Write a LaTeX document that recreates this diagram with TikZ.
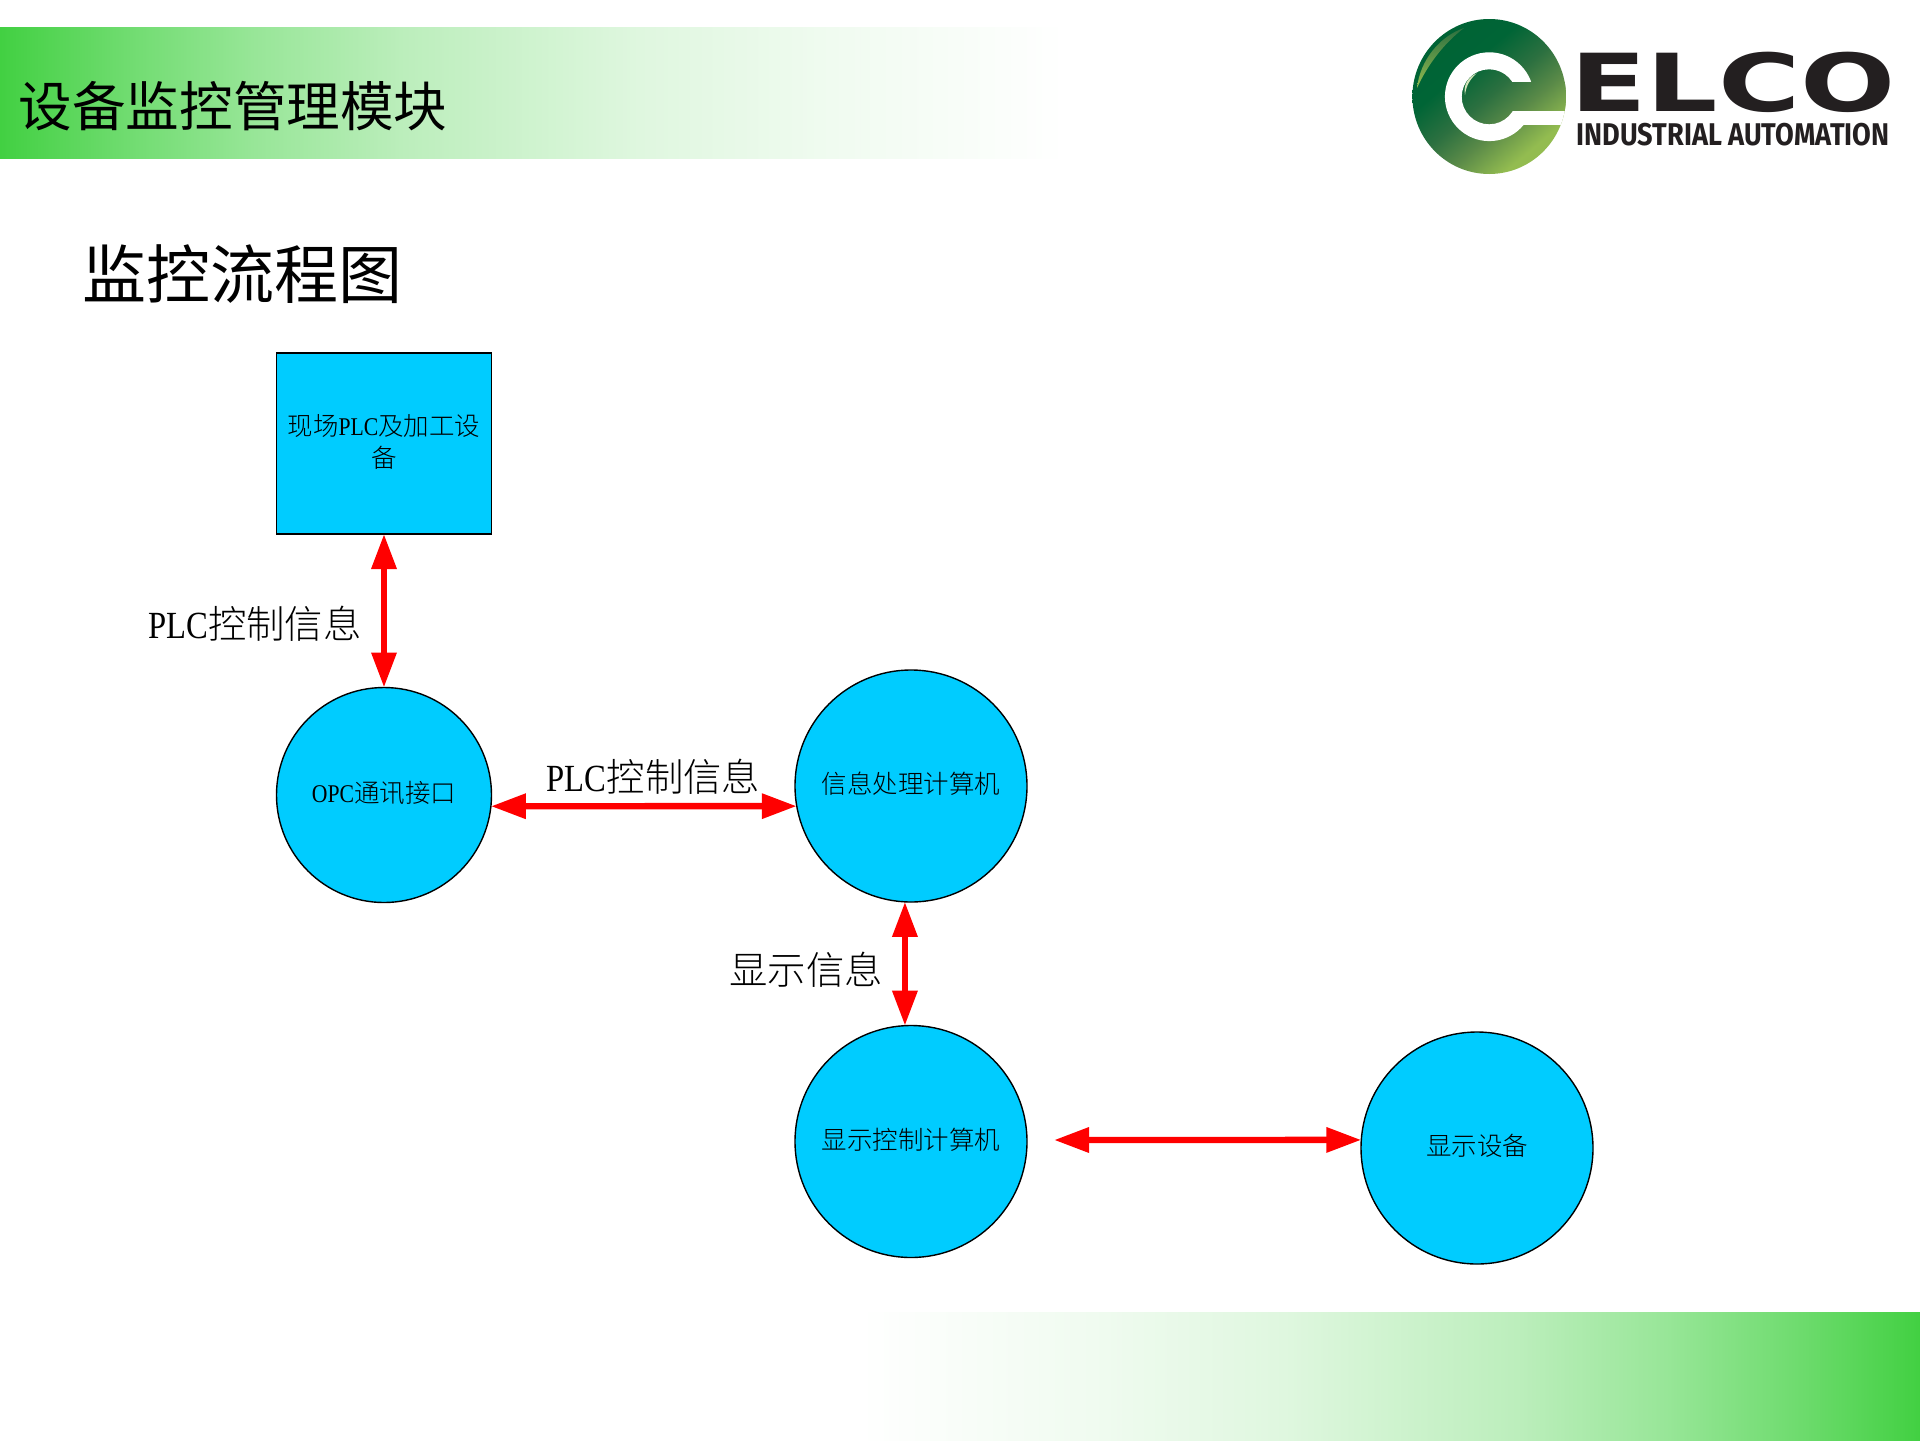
\documentclass[tikz,border=0pt]{standalone}
\usepackage{fontspec}
\usetikzlibrary{arrows.meta}
\setmainfont{Liberation Serif}
\newfontfamily\cjkbody{Noto Sans CJK SC Light}
\newfontfamily\cjkhead{Noto Sans CJK SC}
\newfontfamily\latinbody[FakeStretch=0.85]{Liberation Serif}
\newfontfamily\logowide[FakeStretch=1.4]{DejaVu Sans}
\newfontfamily\logonarrow[FakeStretch=0.865]{Fira Sans}
\newcommand{\latn}[1]{{\latinbody #1}}
\definecolor{bandgreen}{HTML}{42D042}
\definecolor{bandb}{HTML}{70DC70}
\definecolor{bandc}{HTML}{98E698}
\definecolor{bandd}{HTML}{BCEEBC}
\definecolor{bande}{HTML}{DFF7DF}
\definecolor{bandf}{HTML}{F0FBF0}
\definecolor{nodecyan}{HTML}{00CCFF}
\definecolor{logoink}{HTML}{231F20}
\definecolor{logodark}{HTML}{005F33}
\definecolor{logodeep}{HTML}{006536}
\definecolor{logomid}{HTML}{2C7040}
\definecolor{logosoft}{HTML}{5A8A48}
\definecolor{logolight}{HTML}{93BC50}
% the visible part of a shading runs from 25bp to 75bp
\pgfdeclarehorizontalshading{bandfade}{100bp}{
	color(0bp)=(bandgreen); color(25bp)=(bandgreen);
	color(31bp)=(bandb); color(37bp)=(bandc);
	color(44bp)=(bandd); color(55bp)=(bande);
	color(64bp)=(bandf);
	color(75bp)=(white); color(100bp)=(white)}
\pgfdeclareverticalshading{logofade}{100bp}{
	color(0bp)=(logolight); color(28bp)=(logolight);
	color(40bp)=(logosoft); color(50bp)=(logomid);
	color(62bp)=(logodeep); color(100bp)=(logodark)}
\begin{document}
\begin{tikzpicture} [x=0.5pt, y=-0.5pt,
		proc/.style = {draw,
		circle,
		inner sep = 0pt,
		outer sep = 0pt,
		line width = 0.7pt,
		fill=nodecyan,
		text depth = 3pt,
		font=\fontsize{12.75pt}{16pt}\cjkbody},
		store/.style = {proc,
		rectangle,
		align = center},
		link/.style = {draw=red,
		line width = 3.2pt,
		>={Triangle[length=17.5pt,width=12pt]},
		<->},
		flowtext/.style = {font=\fontsize{19.2pt}{23pt}\cjkbody},
		logoshade/.style = {shading=logofade, shading angle=40}]

	\useasboundingbox (0,0) rectangle (1920,1440);

	% bands
	\shade [shading=bandfade] (0,27) rectangle (1065,158);
	\shade [shading=bandfade, shading angle=180] (860,1312) rectangle (1920,1440);

	\node (title) at (233,106) [font=\fontsize{26.8pt}{30pt}\cjkhead] {设备监控管理模块};
	\node (subtitle) at (242.5,274) [font=\fontsize{32pt}{36pt}\cjkhead] {监控流程图};

	% logo
	\begin{scope}
		\clip (1489.2,96.5) ellipse (76.8 and 77.5);
		\shade [logoshade] (1412,19) rectangle (1566,174);
		\fill [white, even odd rule] (1489.3,96.7) circle (44.4) (1489.2,96.8) circle (27.5);
		\begin{scope}
			\clip (1511,82.7) rectangle (1570,110.7);
			\shade [logoshade] (1412,19) rectangle (1566,174);
		\end{scope}
		\fill [white] (1513,110.7) rectangle (1570,125);
	\end{scope}
	\shade [top color=logomid, bottom color=logolight] (1464,28) .. controls (1440,36) and (1420,60) .. (1417,88) .. controls (1427,66) and (1443,44) .. (1464,28);
	\fill [white!60!logolight] (1476.7,73.3) .. controls (1468,77) and (1463,85) .. (1465,95) .. controls (1466,86) and (1470,79) .. (1476.7,73.3);
	\node (logoname) at (1733,82) [inner sep=0pt, text=logoink, font=\fontsize{40pt}{44pt}\logowide\bfseries] {ELCO};
	\node (logotag) at (1733,135) [inner sep=0pt, text=logoink, font=\fontsize{15.7pt}{18pt}\logonarrow\bfseries] {INDUSTRIAL AUTOMATION};

	% flow
	\node (plant) at (384,443.5) [store, minimum width=107.5pt, minimum height=90.5pt] {现场\latn{PLC}及加工设\\备};
	\node (opc) at (384,795) [proc, minimum size=107.5pt] {\latn{OPC}通讯接口};
	\node (info) at (911,786) [proc, minimum size=116pt] {信息处理计算机};
	\node (panel) at (911,1141.5) [proc, minimum size=116pt] {显示控制计算机};
	\node (screen) at (1477,1148) [proc, minimum size=116pt] {显示设备};
	\coordinate (panelgap) at (1054,1140);

	\draw [link] (plant.south) -- (opc.north);
	\draw [link] (opc.-6) -- (info.190);
	\draw [link] (info.267) -- (panel.93);
	\draw [link] (panelgap) -- (screen.176);

	\node (plantlabel) at (255,624) [flowtext] {\latn{PLC}控制信息};
	\node (infolabel) at (653.5,777) [flowtext] {\latn{PLC}控制信息};
	\node (panellabel) at (806,970) [flowtext] {显示信息};

\end{tikzpicture}
\end{document}
